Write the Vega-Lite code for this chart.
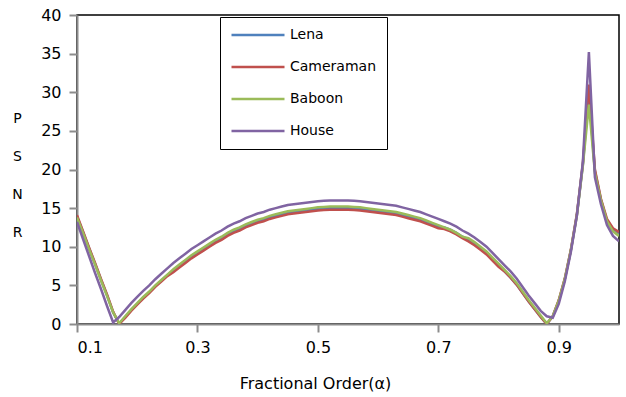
{
  "$schema": "https://vega.github.io/schema/vega-lite/v6.json",
  "width": 542,
  "height": 309,
  "padding": {"left": 77, "top": 15, "right": 7, "bottom": 73},
  "autosize": {"type": "none"},
  "background": "white",
  "config": {
    "view": {"stroke": "black", "strokeWidth": 1.5},
    "font": "DejaVu Sans",
    "axis": {
      "grid": false,
      "labelFont": "DejaVu Sans",
      "labelFontSize": 16,
      "labelColor": "black",
      "titleFont": "DejaVu Sans",
      "titleFontSize": 16,
      "titleFontWeight": "normal",
      "titleColor": "black",
      "domainColor": "#8c8c8c",
      "domainWidth": 2,
      "tickColor": "#8c8c8c",
      "tickWidth": 2,
      "tickSize": 8,
      "zindex": 1
    },
    "legend": {
      "labelFont": "DejaVu Sans",
      "labelFontSize": 14,
      "labelColor": "black"
    }
  },
  "datasets": {
    "psnr": [
      {"a":0.10,"Lena":13.9,"Cameraman":14.1,"Baboon":13.8,"House":13.2},
      {"a":0.11,"Lena":11.9,"Cameraman":12.0,"Baboon":11.8,"House":11.0},
      {"a":0.12,"Lena":9.8,"Cameraman":9.9,"Baboon":9.7,"House":8.8},
      {"a":0.13,"Lena":7.8,"Cameraman":7.9,"Baboon":7.7,"House":6.6},
      {"a":0.14,"Lena":5.7,"Cameraman":5.8,"Baboon":5.6,"House":4.5},
      {"a":0.15,"Lena":3.7,"Cameraman":3.8,"Baboon":3.6,"House":2.3},
      {"a":0.16,"Lena":1.5,"Cameraman":1.6,"Baboon":1.5,"House":0.2},
      {"a":0.17,"Lena":0.05,"Cameraman":0.0,"Baboon":0.1,"House":0.9},
      {"a":0.18,"Lena":0.9,"Cameraman":0.8,"Baboon":1.0,"House":1.8},
      {"a":0.19,"Lena":1.8,"Cameraman":1.7,"Baboon":1.9,"House":2.7},
      {"a":0.20,"Lena":2.6,"Cameraman":2.5,"Baboon":2.7,"House":3.5},
      {"a":0.21,"Lena":3.4,"Cameraman":3.3,"Baboon":3.5,"House":4.3},
      {"a":0.22,"Lena":4.1,"Cameraman":4.0,"Baboon":4.2,"House":5.0},
      {"a":0.23,"Lena":4.9,"Cameraman":4.8,"Baboon":5.0,"House":5.8},
      {"a":0.24,"Lena":5.6,"Cameraman":5.5,"Baboon":5.7,"House":6.5},
      {"a":0.25,"Lena":6.3,"Cameraman":6.2,"Baboon":6.4,"House":7.2},
      {"a":0.26,"Lena":6.9,"Cameraman":6.7,"Baboon":7.1,"House":7.9},
      {"a":0.27,"Lena":7.5,"Cameraman":7.3,"Baboon":7.7,"House":8.5},
      {"a":0.28,"Lena":8.1,"Cameraman":7.9,"Baboon":8.3,"House":9.1},
      {"a":0.29,"Lena":8.7,"Cameraman":8.5,"Baboon":8.9,"House":9.7},
      {"a":0.30,"Lena":9.2,"Cameraman":9.0,"Baboon":9.4,"House":10.2},
      {"a":0.31,"Lena":9.7,"Cameraman":9.5,"Baboon":9.9,"House":10.7},
      {"a":0.32,"Lena":10.2,"Cameraman":10.0,"Baboon":10.4,"House":11.2},
      {"a":0.33,"Lena":10.7,"Cameraman":10.5,"Baboon":10.9,"House":11.7},
      {"a":0.34,"Lena":11.1,"Cameraman":10.9,"Baboon":11.3,"House":12.1},
      {"a":0.35,"Lena":11.6,"Cameraman":11.4,"Baboon":11.8,"House":12.6},
      {"a":0.36,"Lena":12.0,"Cameraman":11.8,"Baboon":12.2,"House":13.0},
      {"a":0.37,"Lena":12.3,"Cameraman":12.1,"Baboon":12.5,"House":13.3},
      {"a":0.38,"Lena":12.7,"Cameraman":12.5,"Baboon":12.9,"House":13.7},
      {"a":0.39,"Lena":13.0,"Cameraman":12.8,"Baboon":13.2,"House":14.0},
      {"a":0.40,"Lena":13.3,"Cameraman":13.1,"Baboon":13.5,"House":14.3},
      {"a":0.41,"Lena":13.5,"Cameraman":13.3,"Baboon":13.7,"House":14.5},
      {"a":0.42,"Lena":13.8,"Cameraman":13.6,"Baboon":14.0,"House":14.8},
      {"a":0.43,"Lena":14.0,"Cameraman":13.8,"Baboon":14.2,"House":15.0},
      {"a":0.44,"Lena":14.2,"Cameraman":14.0,"Baboon":14.4,"House":15.2},
      {"a":0.45,"Lena":14.4,"Cameraman":14.2,"Baboon":14.6,"House":15.4},
      {"a":0.46,"Lena":14.5,"Cameraman":14.3,"Baboon":14.7,"House":15.5},
      {"a":0.47,"Lena":14.6,"Cameraman":14.4,"Baboon":14.8,"House":15.6},
      {"a":0.48,"Lena":14.7,"Cameraman":14.5,"Baboon":14.9,"House":15.7},
      {"a":0.49,"Lena":14.8,"Cameraman":14.6,"Baboon":15.0,"House":15.8},
      {"a":0.50,"Lena":14.9,"Cameraman":14.7,"Baboon":15.1,"House":15.9},
      {"a":0.51,"Lena":14.95,"Cameraman":14.75,"Baboon":15.15,"House":15.95},
      {"a":0.52,"Lena":15.0,"Cameraman":14.8,"Baboon":15.2,"House":16.0},
      {"a":0.53,"Lena":15.0,"Cameraman":14.8,"Baboon":15.2,"House":16.0},
      {"a":0.54,"Lena":15.0,"Cameraman":14.8,"Baboon":15.2,"House":16.0},
      {"a":0.55,"Lena":15.0,"Cameraman":14.8,"Baboon":15.2,"House":16.0},
      {"a":0.56,"Lena":14.95,"Cameraman":14.75,"Baboon":15.15,"House":15.95},
      {"a":0.57,"Lena":14.9,"Cameraman":14.7,"Baboon":15.1,"House":15.9},
      {"a":0.58,"Lena":14.8,"Cameraman":14.6,"Baboon":15.0,"House":15.8},
      {"a":0.59,"Lena":14.7,"Cameraman":14.5,"Baboon":14.9,"House":15.7},
      {"a":0.60,"Lena":14.6,"Cameraman":14.4,"Baboon":14.8,"House":15.6},
      {"a":0.61,"Lena":14.5,"Cameraman":14.3,"Baboon":14.7,"House":15.5},
      {"a":0.62,"Lena":14.4,"Cameraman":14.2,"Baboon":14.6,"House":15.4},
      {"a":0.63,"Lena":14.3,"Cameraman":14.1,"Baboon":14.5,"House":15.3},
      {"a":0.64,"Lena":14.1,"Cameraman":13.9,"Baboon":14.3,"House":15.1},
      {"a":0.65,"Lena":13.9,"Cameraman":13.7,"Baboon":14.1,"House":14.9},
      {"a":0.66,"Lena":13.7,"Cameraman":13.5,"Baboon":13.9,"House":14.7},
      {"a":0.67,"Lena":13.5,"Cameraman":13.3,"Baboon":13.7,"House":14.5},
      {"a":0.68,"Lena":13.2,"Cameraman":13.0,"Baboon":13.4,"House":14.2},
      {"a":0.69,"Lena":12.9,"Cameraman":12.7,"Baboon":13.1,"House":13.9},
      {"a":0.70,"Lena":12.6,"Cameraman":12.4,"Baboon":12.8,"House":13.6},
      {"a":0.71,"Lena":12.5,"Cameraman":12.3,"Baboon":12.5,"House":13.3},
      {"a":0.72,"Lena":12.2,"Cameraman":12.0,"Baboon":12.2,"House":13.0},
      {"a":0.73,"Lena":11.8,"Cameraman":11.6,"Baboon":11.8,"House":12.6},
      {"a":0.74,"Lena":11.3,"Cameraman":11.1,"Baboon":11.3,"House":12.1},
      {"a":0.75,"Lena":10.9,"Cameraman":10.7,"Baboon":11.1,"House":11.7},
      {"a":0.76,"Lena":10.4,"Cameraman":10.2,"Baboon":10.6,"House":11.2},
      {"a":0.77,"Lena":9.8,"Cameraman":9.6,"Baboon":10.0,"House":10.6},
      {"a":0.78,"Lena":9.2,"Cameraman":9.0,"Baboon":9.4,"House":10.0},
      {"a":0.79,"Lena":8.4,"Cameraman":8.2,"Baboon":8.6,"House":9.2},
      {"a":0.80,"Lena":7.6,"Cameraman":7.4,"Baboon":7.8,"House":8.4},
      {"a":0.81,"Lena":6.8,"Cameraman":6.8,"Baboon":7.0,"House":7.6},
      {"a":0.82,"Lena":6.0,"Cameraman":6.0,"Baboon":6.2,"House":6.8},
      {"a":0.83,"Lena":5.1,"Cameraman":5.1,"Baboon":5.3,"House":5.9},
      {"a":0.84,"Lena":4.0,"Cameraman":4.0,"Baboon":4.2,"House":4.8},
      {"a":0.85,"Lena":2.9,"Cameraman":2.9,"Baboon":3.1,"House":3.7},
      {"a":0.86,"Lena":1.9,"Cameraman":1.9,"Baboon":2.1,"House":2.7},
      {"a":0.87,"Lena":0.9,"Cameraman":0.9,"Baboon":1.1,"House":1.7},
      {"a":0.88,"Lena":0.0,"Cameraman":0.0,"Baboon":0.1,"House":1.0},
      {"a":0.89,"Lena":1.0,"Cameraman":1.0,"Baboon":1.0,"House":0.8},
      {"a":0.90,"Lena":3.0,"Cameraman":3.1,"Baboon":3.0,"House":2.6},
      {"a":0.91,"Lena":5.8,"Cameraman":5.9,"Baboon":5.8,"House":5.5},
      {"a":0.92,"Lena":9.5,"Cameraman":9.6,"Baboon":9.5,"House":9.3},
      {"a":0.93,"Lena":14.1,"Cameraman":14.2,"Baboon":14.0,"House":14.0},
      {"a":0.94,"Lena":20.6,"Cameraman":20.8,"Baboon":20.5,"House":21.0},
      {"a":0.95,"Lena":30.0,"Cameraman":31.0,"Baboon":28.4,"House":35.2},
      {"a":0.96,"Lena":19.8,"Cameraman":20.0,"Baboon":19.5,"House":19.0},
      {"a":0.97,"Lena":16.1,"Cameraman":16.2,"Baboon":16.0,"House":15.5},
      {"a":0.98,"Lena":13.4,"Cameraman":13.6,"Baboon":13.3,"House":12.8},
      {"a":0.99,"Lena":12.2,"Cameraman":12.4,"Baboon":12.0,"House":11.4},
      {"a":1.00,"Lena":11.6,"Cameraman":11.9,"Baboon":11.4,"House":10.7}
    ]
  },
  "data": {"name": "psnr"},
  "transform": [
    {"fold": ["Lena", "Cameraman", "Baboon", "House"], "as": ["image", "psnr"]}
  ],
  "mark": {"type": "line", "strokeWidth": 2.5, "clip": true},
  "encoding": {
    "x": {
      "field": "a",
      "type": "quantitative",
      "scale": {"domain": [0.1, 1.0], "nice": false, "zero": false},
      "axis": {
        "values": [0.1, 0.3, 0.5, 0.7, 0.9],
        "format": ".1f",
        "labelPadding": 7,
        "title": "Fractional Order(α)",
        "titleX": 238,
        "titleY": 64,
        "titleBaseline": "alphabetic",
        "titleAlign": "center"
      }
    },
    "y": {
      "field": "psnr",
      "type": "quantitative",
      "scale": {"domain": [0, 40], "nice": false},
      "axis": {
        "values": [0, 5, 10, 15, 20, 25, 30, 35, 40],
        "labelPadding": 8,
        "title": ["P", "S", "N", "R"],
        "titleAngle": 0,
        "titleAlign": "center",
        "titleBaseline": "alphabetic",
        "titleX": -60,
        "titleY": 107,
        "titleLineHeight": 38,
        "titleFontSize": 14
      }
    },
    "color": {
      "field": "image",
      "type": "nominal",
      "scale": {
        "domain": ["Lena", "Cameraman", "Baboon", "House"],
        "range": ["#4F81BD", "#C0504D", "#9BBB59", "#8064A2"]
      },
      "legend": {
        "title": null,
        "orient": "none",
        "legendX": 143,
        "legendY": 2,
        "strokeColor": "black",
        "padding": 10,
        "symbolType": "stroke",
        "symbolSize": 2809,
        "symbolStrokeWidth": 2.5,
        "clipHeight": 16,
        "rowPadding": 16,
        "labelOffset": 4,
        "fillColor": "white"
      }
    }
  }
}
